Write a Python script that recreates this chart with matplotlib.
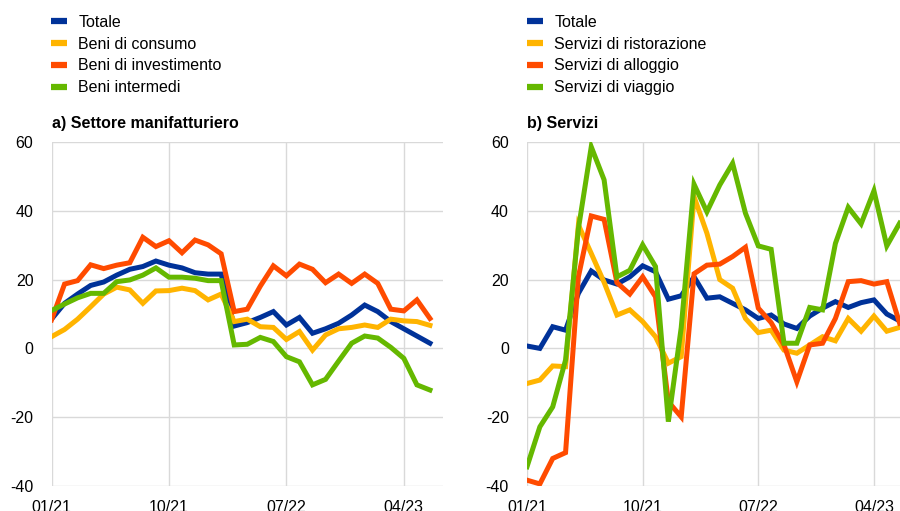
import matplotlib.pyplot as plt
from matplotlib.lines import Line2D

plt.rcParams['font.family'] = ['Liberation Sans', 'DejaVu Sans']
plt.rcParams['axes.unicode_minus'] = False

# mesi da 01/21 a 06/23
mesi = list(range(30))
tick_pos = [0, 9, 18, 27]
tick_lab = ['01/21', '10/21', '07/22', '04/23']

# a) Settore manifatturiero
man_totale = [8.5, 13.1, 15.8, 18.3, 19.3, 21.3, 23.0, 23.8, 25.4, 24.2, 23.4, 22.0, 21.6, 21.6, 6.5,
              7.5, 9.0, 10.7, 6.8, 9.0, 4.4, 5.7, 7.3, 9.7, 12.6, 10.7, 7.8, 5.7, 3.6, 1.5]
man_consumo = [3.4, 5.5, 8.5, 12.1, 15.8, 17.8, 17.0, 13.1, 16.7, 16.8, 17.5, 16.8, 14.1, 15.8, 7.8,
               8.5, 6.3, 6.1, 2.6, 4.9, -0.5, 3.9, 5.7, 6.1, 6.8, 6.1, 8.5, 8.0, 7.8, 6.7]
man_investimento = [8.3, 18.7, 19.7, 24.3, 23.2, 24.2, 24.9, 32.3, 29.6, 31.3, 27.8, 31.5, 30.1, 27.5, 10.7,
                    11.4, 18.1, 24.0, 21.1, 24.5, 23.0, 19.1, 21.6, 18.9, 21.6, 18.9, 11.4, 10.9, 14.1, 8.7]
man_intermedi = [11.0, 12.9, 14.7, 16.0, 16.0, 19.4, 19.9, 21.3, 23.4, 20.7, 20.7, 20.4, 19.7, 19.7, 1.0,
                 1.2, 3.2, 2.0, -2.4, -3.9, -10.6, -9.0, -3.7, 1.5, 3.6, 3.0, 0.3, -2.9, -10.6, -12.1]

# b) Servizi
ser_totale = [0.7, 0.0, 6.3, 5.3, 16.0, 22.5, 19.9, 18.7, 20.8, 24.0, 22.3, 14.3, 15.3, 20.8, 14.6,
              15.0, 13.1, 11.2, 8.7, 9.7, 7.1, 5.8, 9.4, 11.7, 13.6, 11.9, 13.3, 14.1, 10.0, 8.0]
ser_ristorazione = [-10.2, -9.2, -5.1, -5.3, 35.9, 27.6, 19.2, 9.7, 11.2, 7.8, 3.4, -4.3, -2.4, 44.1, 33.5,
                    20.0, 17.5, 8.7, 4.6, 5.3, -0.5, -1.4, 1.0, 3.4, 2.2, 8.7, 5.0, 9.4, 5.0, 6.1]
ser_alloggio = [-38.3, -39.4, -32.0, -30.3, 20.8, 38.5, 37.5, 19.1, 15.8, 20.8, 15.0, -15.5, -19.9, 21.7, 24.2,
                24.5, 26.7, 29.4, 11.7, 7.5, 1.0, -9.7, 1.0, 1.5, 8.7, 19.4, 19.7, 18.7, 19.4, 7.3]
ser_viaggio = [-34.4, -22.8, -17.0, -3.4, 34.8, 58.6, 49.0, 20.8, 22.7, 30.1, 23.8, -21.3, 6.0, 47.7, 39.7,
               47.5, 53.8, 39.3, 29.8, 28.8, 1.5, 1.5, 11.9, 11.2, 30.5, 41.0, 36.2, 45.8, 29.8, 36.4]

colori = ['#003299', '#ffb400', '#ff4b00', '#65b800']
fs = 11.5

fig = plt.figure(figsize=(9, 5.11), dpi=100)

def pannello(rect, serie, xmax):
    ax = fig.add_axes(rect)
    for s, c in zip(serie, colori):
        ax.plot(mesi, s, color=c, linewidth=3.6, solid_joinstyle='miter')
    ax.set_xlim(0, xmax)
    ax.set_ylim(-40, 60)
    ax.set_yticks([-40, -20, 0, 20, 40, 60])
    ax.set_xticks(tick_pos)
    ax.set_xticklabels(tick_lab)
    ax.grid(True, color='#d9d9d9', linewidth=1)
    ax.set_axisbelow(True)
    for sp in ax.spines.values():
        sp.set_visible(False)
    ax.tick_params(axis='both', length=0, labelsize=fs, colors='black')
    ax.tick_params(axis='y', pad=13)
    ax.tick_params(axis='x', pad=10)
    return ax

ax1 = pannello([51.5 / 900, 25 / 511, 391.5 / 900, 344 / 511],
               [man_totale, man_consumo, man_investimento, man_intermedi], 30)
ax2 = pannello([527 / 900, 25 / 511, 385.5 / 900, 344 / 511],
               [ser_totale, ser_ristorazione, ser_alloggio, ser_viaggio], 30)

def legenda(x, nomi):
    handles = [Line2D([], [], color=c, linewidth=4.5, solid_capstyle='butt') for c in colori]
    fig.legend(handles, nomi, loc='upper left', bbox_to_anchor=(x, 1 - 15 / 511),
               frameon=False, fontsize=fs, handlelength=1.0, handletextpad=0.7,
               labelspacing=0.42, borderpad=0, borderaxespad=0)

legenda(51 / 900, ['Totale', 'Beni di consumo', 'Beni di investimento', 'Beni intermedi'])
legenda(527 / 900, ['Totale', 'Servizi di ristorazione', 'Servizi di alloggio', 'Servizi di viaggio'])

fig.text(52 / 900, 1 - 123 / 511, 'a) Settore manifatturiero', fontsize=fs, fontweight='bold', va='center')
fig.text(527 / 900, 1 - 123 / 511, 'b) Servizi', fontsize=fs, fontweight='bold', va='center')

fig.savefig('out.png', dpi=100)
